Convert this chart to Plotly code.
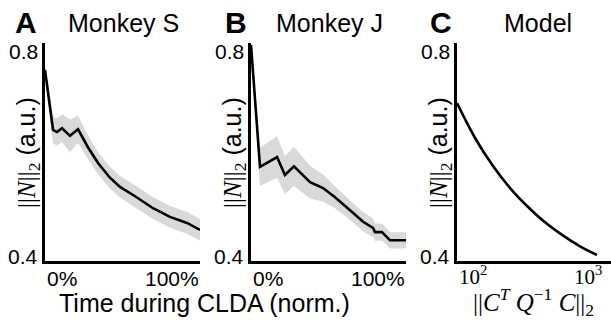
import plotly.graph_objects as go

# ---------------- data ----------------
# Panel A: Monkey S (normalized CLDA time, 0..1)
tA = [0.0, 0.052, 0.077, 0.110, 0.161, 0.213, 0.277, 0.342, 0.419, 0.484, 0.581, 0.697, 0.806, 0.916, 1.0]
meanA = [0.751, 0.641, 0.637, 0.644, 0.630, 0.642, 0.609, 0.580, 0.553, 0.536, 0.519, 0.497, 0.481, 0.470, 0.457]
errA = [0.014, 0.025, 0.025, 0.026, 0.030, 0.025, 0.022, 0.020, 0.020, 0.020, 0.020, 0.020, 0.020, 0.020, 0.020]

# Panel B: Monkey J
tB = [0.0, 0.058, 0.168, 0.219, 0.277, 0.381, 0.465, 0.542, 0.652, 0.723, 0.787, 0.800, 0.845, 0.897, 1.0]
meanB = [0.797, 0.573, 0.591, 0.558, 0.574, 0.545, 0.534, 0.517, 0.490, 0.472, 0.461, 0.453, 0.453, 0.438, 0.438]
errB = [0.010, 0.035, 0.038, 0.035, 0.036, 0.030, 0.025, 0.020, 0.018, 0.018, 0.017, 0.016, 0.016, 0.015, 0.015]

# Panel C: Model
xC = [100, 133, 177, 231, 302, 401, 524, 696, 910]
yC = [0.690, 0.626, 0.574, 0.534, 0.501, 0.471, 0.448, 0.427, 0.411]

y_ticks = [0.4, 0.8]
y_ticktext = ["0.4", "0.8"]
x_ticktext_AB = ["0%", "100%"]
titles = ["Monkey S", "Monkey J", "Model"]
letters = ["A", "B", "C"]

# ---------------- layout helpers ----------------
W, H = 611, 320


def px(x):
    return x / W


def py(y):
    return 1 - y / H


SANS = "Liberation Sans, Arial, sans-serif"
SERIF = "Liberation Serif, Times New Roman, serif"
BAND = "rgb(217,217,217)"

fig = go.Figure()


def add_band(t, m, e, xa, ya):
    up = [a + b for a, b in zip(m, e)]
    lo = [a - b for a, b in zip(m, e)]
    fig.add_trace(go.Scatter(x=t + t[::-1], y=up + lo[::-1], fill="toself",
                             fillcolor=BAND, line=dict(width=0), mode="lines",
                             hoverinfo="skip", showlegend=False, xaxis=xa, yaxis=ya))
    fig.add_trace(go.Scatter(x=t, y=m, mode="lines", line=dict(color="black", width=2.6),
                             showlegend=False, xaxis=xa, yaxis=ya))


add_band(tA, meanA, errA, "x", "y")
add_band(tB, meanB, errB, "x2", "y2")
fig.add_trace(go.Scatter(x=xC, y=yC, mode="lines",
                         line=dict(color="black", width=2.6, shape="spline", smoothing=1),
                         showlegend=False, xaxis="x3", yaxis="y3"))

ydom = [py(261), py(43.3)]
xdoms = [[px(45), px(200)], [px(251), px(406)], [px(457), 1.0]]
axis_common = dict(showgrid=False, zeroline=False, showline=True, linecolor="black",
                   linewidth=3, showticklabels=False, tickcolor="black",
                   tickwidth=1.5, ticklen=9)

layout = dict(width=W, height=H, margin=dict(l=0, r=0, t=0, b=0),
              paper_bgcolor="white", plot_bgcolor="white", showlegend=False)
for i in range(3):
    sx = "" if i == 0 else str(i + 1)
    xa = dict(axis_common, domain=xdoms[i], anchor="y" + sx)
    if i < 2:
        xa.update(range=[0, 1], tickvals=[0, 1], ticks="inside")
    else:
        xa.update(type="log", range=[2, 3.055], ticks="")
    ya = dict(axis_common, domain=ydom, anchor="x" + sx, range=[0.4, 0.8],
              tickvals=y_ticks, ticks="inside")
    layout["xaxis" + sx] = xa
    layout["yaxis" + sx] = ya
fig.update_layout(**layout)

ann = []


def A(x, y, text, size, xanchor="center", yanchor="middle", family=SANS, angle=0):
    ann.append(dict(xref="paper", yref="paper", x=px(x), y=py(y), text=text,
                    showarrow=False, xanchor=xanchor, yanchor=yanchor, textangle=angle,
                    font=dict(family=family, size=size, color="black")))


# letters and titles
letter_x = [26.5, 236, 441]
title_x = [123.5, 329, 537.5]
for i in range(3):
    A(letter_x[i], 22.5, "<b>%s</b>" % letters[i], 30)
    A(title_x[i], 23.3, titles[i], 25)

# y tick labels
axis_left = [45, 251, 457]
for i in range(3):
    A(axis_left[i] - 5, 51.5, y_ticktext[1], 21, xanchor="right")
    A(axis_left[i] - 5, 256, y_ticktext[0], 21, xanchor="right")

# x tick labels A, B
axis_right = [200, 406]
for i in range(2):
    A(axis_left[i], 278, x_ticktext_AB[0], 21, xanchor="left")
    A(axis_right[i] + 1, 278, x_ticktext_AB[1], 21, xanchor="right")

# x tick labels C
A(457, 275, "10<sup>2</sup>", 21, xanchor="left", family=SERIF)
A(604, 275, "10<sup>3</sup>", 21, xanchor="right", family=SERIF)

# y axis titles
ytitle = ('<span style="font-family:Liberation Serif">||<i>N</i>||<sub>2</sub></span>'
          ' (a.u.)')
for i in range(3):
    A(axis_left[i] - 17, 153, ytitle, 25, angle=-90)

# x axis titles
A(205, 303, "Time during CLDA (norm.)", 25)
A(533, 302, "||<i>C</i><sup><i>T</i></sup> <i>Q</i><sup>−1</sup> <i>C</i>||<sub>2</sub>",
  25, family=SERIF)

fig.update_layout(annotations=ann)
fig.write_html("out.html", config={"displayModeBar": False})

# remove default page margin so the figure sits at the window's top-left
with open("out.html", encoding="utf-8") as f:
    html = f.read()
html = html.replace("<head>", "<head><style>html,body{margin:0;padding:0;overflow:hidden;}</style>", 1)
with open("out.html", "w", encoding="utf-8") as f:
    f.write(html)
